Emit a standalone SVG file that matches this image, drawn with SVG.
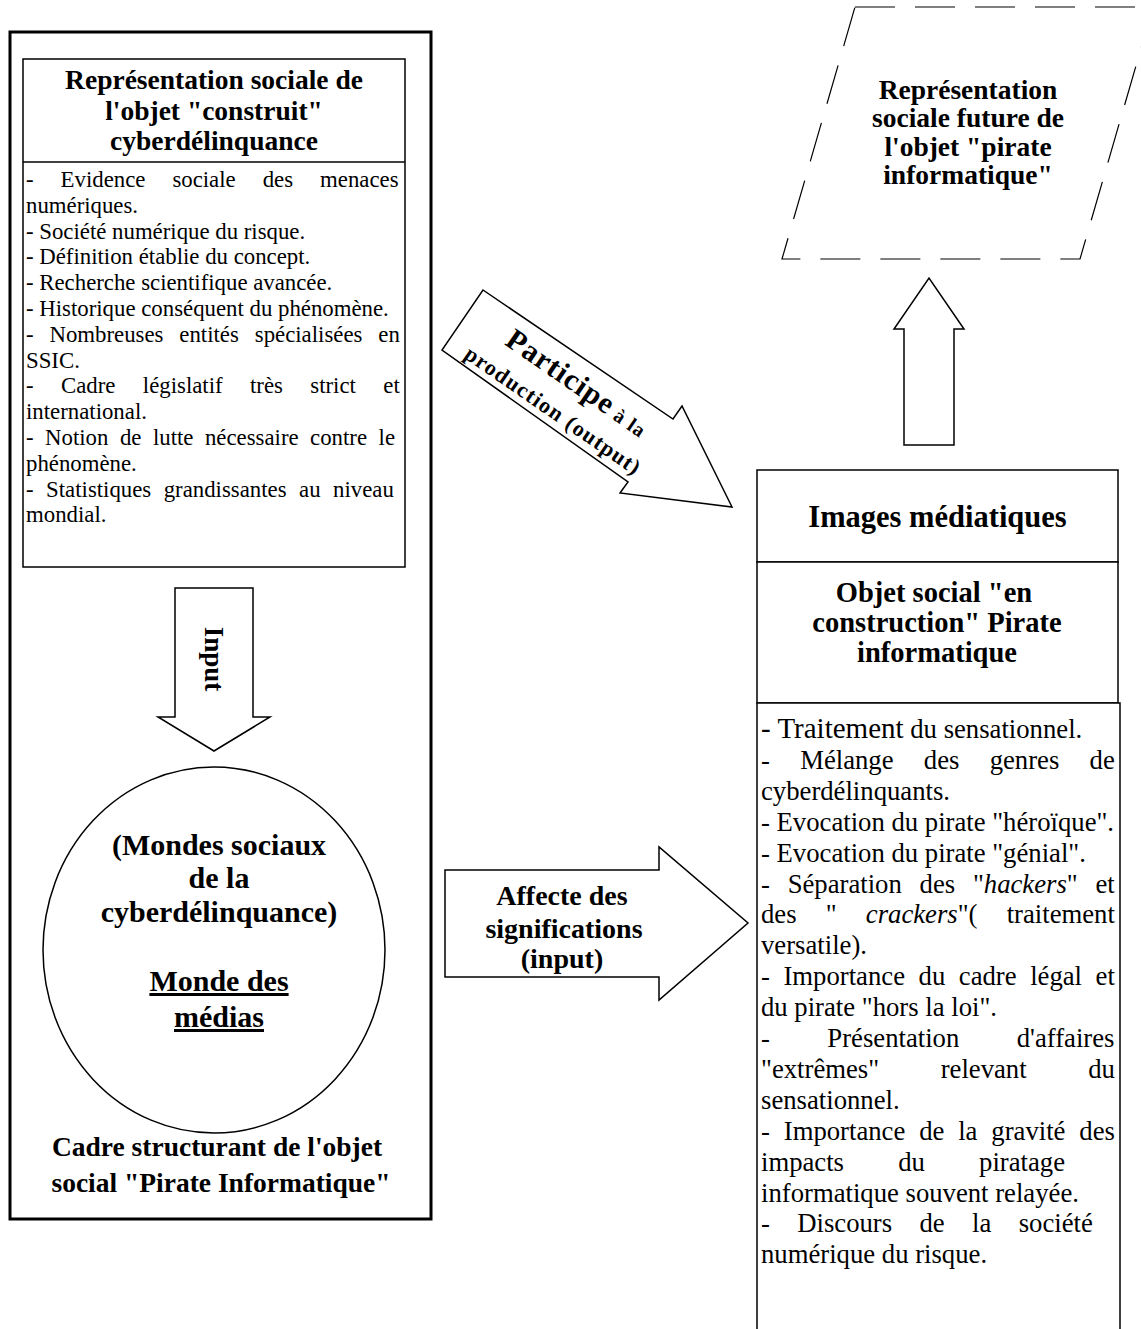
<svg xmlns="http://www.w3.org/2000/svg" width="1141" height="1329" viewBox="0 0 1141 1329">
<style>
  .b { font-family: "Liberation Serif", "Times New Roman", serif; font-weight: bold; fill: #000; }
  .r { font-family: "Liberation Serif", "Times New Roman", serif; fill: #000; }
  .box { fill: #fff; stroke: #000; stroke-width: 1.5; }
  .shape { fill: #fff; stroke: #000; stroke-width: 1.5; stroke-linejoin: miter; }
  .lt { font-size: 22.8px; }
  .rt { font-size: 26.7px; }
</style>
<rect width="1141" height="1329" fill="#fff"/>

<g id="outer-frame">
  <rect x="10" y="32" width="421" height="1187" fill="none" stroke="#000" stroke-width="3"/>
</g>

<g id="node-representation-cyber">
  <rect class="box" x="23" y="59" width="382" height="508"/>
  <line x1="23" y1="162" x2="405" y2="162" stroke="#000" stroke-width="1.5"/>
  <g class="b" font-size="27.5" text-anchor="middle">
    <text x="214" y="89">Représentation sociale de</text>
    <text x="214" y="120">l'objet "construit"</text>
    <text x="214" y="150">cyberdélinquance</text>
  </g>
  <g class="r lt">
    <text x="26" y="187" word-spacing="21.3">- Evidence sociale des menaces</text>
    <text x="26" y="212.8">numériques.</text>
    <text x="26" y="238.6">- Société numérique du risque.</text>
    <text x="26" y="264.4">- Définition établie du concept.</text>
    <text x="26" y="290.2">- Recherche scientifique avancée.</text>
    <text x="26" y="316">- Historique conséquent du phénomène.</text>
    <text x="26" y="341.8" word-spacing="10.2">- Nombreuses entités spécialisées en</text>
    <text x="26" y="367.6">SSIC.</text>
    <text x="26" y="393.4" word-spacing="21.7">- Cadre législatif très strict et</text>
    <text x="26" y="419.2">international.</text>
    <text x="26" y="445" word-spacing="5.8">- Notion de lutte nécessaire contre le</text>
    <text x="26" y="470.8">phénomène.</text>
    <text x="26" y="496.6" word-spacing="6.8">- Statistiques grandissantes au niveau</text>
    <text x="26" y="522.4">mondial.</text>
  </g>
</g>

<g id="node-mondes-sociaux">
  <ellipse class="box" cx="214" cy="950" rx="171" ry="183"/>
  <g class="b" font-size="30" text-anchor="middle">
    <text x="219" y="855">(Mondes sociaux</text>
    <text x="219" y="888">de la</text>
    <text x="219" y="922">cyberdélinquance)</text>
    <text x="219" y="991" text-decoration="underline">Monde des</text>
    <text x="219" y="1027" text-decoration="underline">médias</text>
  </g>
</g>

<g id="node-cadre-structurant">
  <g class="b" font-size="27.5" text-anchor="middle">
    <text x="217" y="1156">Cadre structurant de l'objet</text>
    <text x="221" y="1192">social "Pirate Informatique"</text>
  </g>
</g>

<g id="node-representation-future">
  <polygon points="855,7 1153,7 1080,259 782,259" fill="#fff" stroke="#000" stroke-width="1.2" stroke-dasharray="40 20"/>
  <g class="b" font-size="27.5" text-anchor="middle">
    <text x="968" y="99">Représentation</text>
    <text x="968" y="127">sociale future de</text>
    <text x="968" y="156">l'objet "pirate</text>
    <text x="968" y="184">informatique"</text>
  </g>
</g>

<g id="node-images-mediatiques">
  <rect class="box" x="757" y="470" width="361" height="92"/>
  <text class="b" font-size="30.5" text-anchor="middle" x="937.5" y="527">Images médiatiques</text>
</g>

<g id="node-objet-social">
  <rect class="box" x="757" y="562" width="361" height="141"/>
  <g class="b" font-size="28.5" text-anchor="middle">
    <text x="934" y="602">Objet social "en</text>
    <text x="937" y="632">construction" Pirate</text>
    <text x="937" y="662">informatique</text>
  </g>
</g>

<g id="node-liste-mediatique">
  <rect class="box" x="757" y="703" width="363" height="640"/>
  <g class="r rt">
    <text x="761" y="738"><tspan font-size="29">- Traitement</tspan> du sensationnel.</text>
    <text x="761" y="768.9" word-spacing="23.6">- Mélange des genres de</text>
    <text x="761" y="799.8">cyberdélinquants.</text>
    <text x="761" y="830.7">- Evocation du pirate "héroïque".</text>
    <text x="761" y="861.6">- Evocation du pirate "génial".</text>
    <text x="761" y="892.5" word-spacing="11.1">- Séparation des "<tspan font-style="italic">hackers</tspan>" et</text>
    <text x="761" y="923.4" word-spacing="22.5">des " <tspan font-style="italic">crackers</tspan>"( traitement</text>
    <text x="761" y="954.3">versatile).</text>
    <text x="761" y="985.2" word-spacing="6.9">- Importance du cadre légal et</text>
    <text x="761" y="1016.1">du pirate "hors la loi".</text>
    <text x="761" y="1047" word-spacing="50.8">- Présentation d'affaires</text>
    <text x="761" y="1077.9" word-spacing="54.9">"extrêmes" relevant du</text>
    <text x="761" y="1108.8">sensationnel.</text>
    <text x="761" y="1139.7" word-spacing="7.2">- Importance de la gravité des</text>
    <text x="761" y="1170.6" word-spacing="47.5">impacts du piratage</text>
    <text x="761" y="1201.5">informatique souvent relayée.</text>
    <text x="761" y="1232.4" word-spacing="20.7">- Discours de la société</text>
    <text x="761" y="1263.3">numérique du risque.</text>
  </g>
</g>

<g id="connectors">
  <g id="arrow-input">
    <polygon class="shape" points="175,588 253,588 253,717 270,717 214,751 158,717 175,717"/>
    <text class="b" font-size="27" text-anchor="middle" transform="translate(205,659) rotate(90)" x="0" y="0">Input</text>
  </g>
  <g id="arrow-participe">
    <polygon class="shape" points="483,290 673,419 682,406 732,507 620,493 628,482 442,350"/>
    <g transform="translate(462,320) rotate(34.66)">
      <text class="b" x="48" y="-4" textLength="165" lengthAdjust="spacing"><tspan font-size="30">Participe</tspan><tspan font-size="20"> à la</tspan></text>
      <text class="b" font-size="22" x="22" y="30" textLength="208" lengthAdjust="spacing">production (output)</text>
    </g>
  </g>
  <g id="arrow-affecte">
    <polygon class="shape" points="445,870 659,870 659,847 748,923 659,1000 659,977 445,977"/>
    <g class="b" font-size="28" text-anchor="middle">
      <text x="562" y="905">Affecte des</text>
      <text x="564" y="938">significations</text>
      <text x="562" y="968">(input)</text>
    </g>
  </g>
  <g id="arrow-up">
    <polygon class="shape" points="904,445 904,329 894,329 929,278 964,329 954,329 954,445"/>
  </g>
</g>
</svg>
